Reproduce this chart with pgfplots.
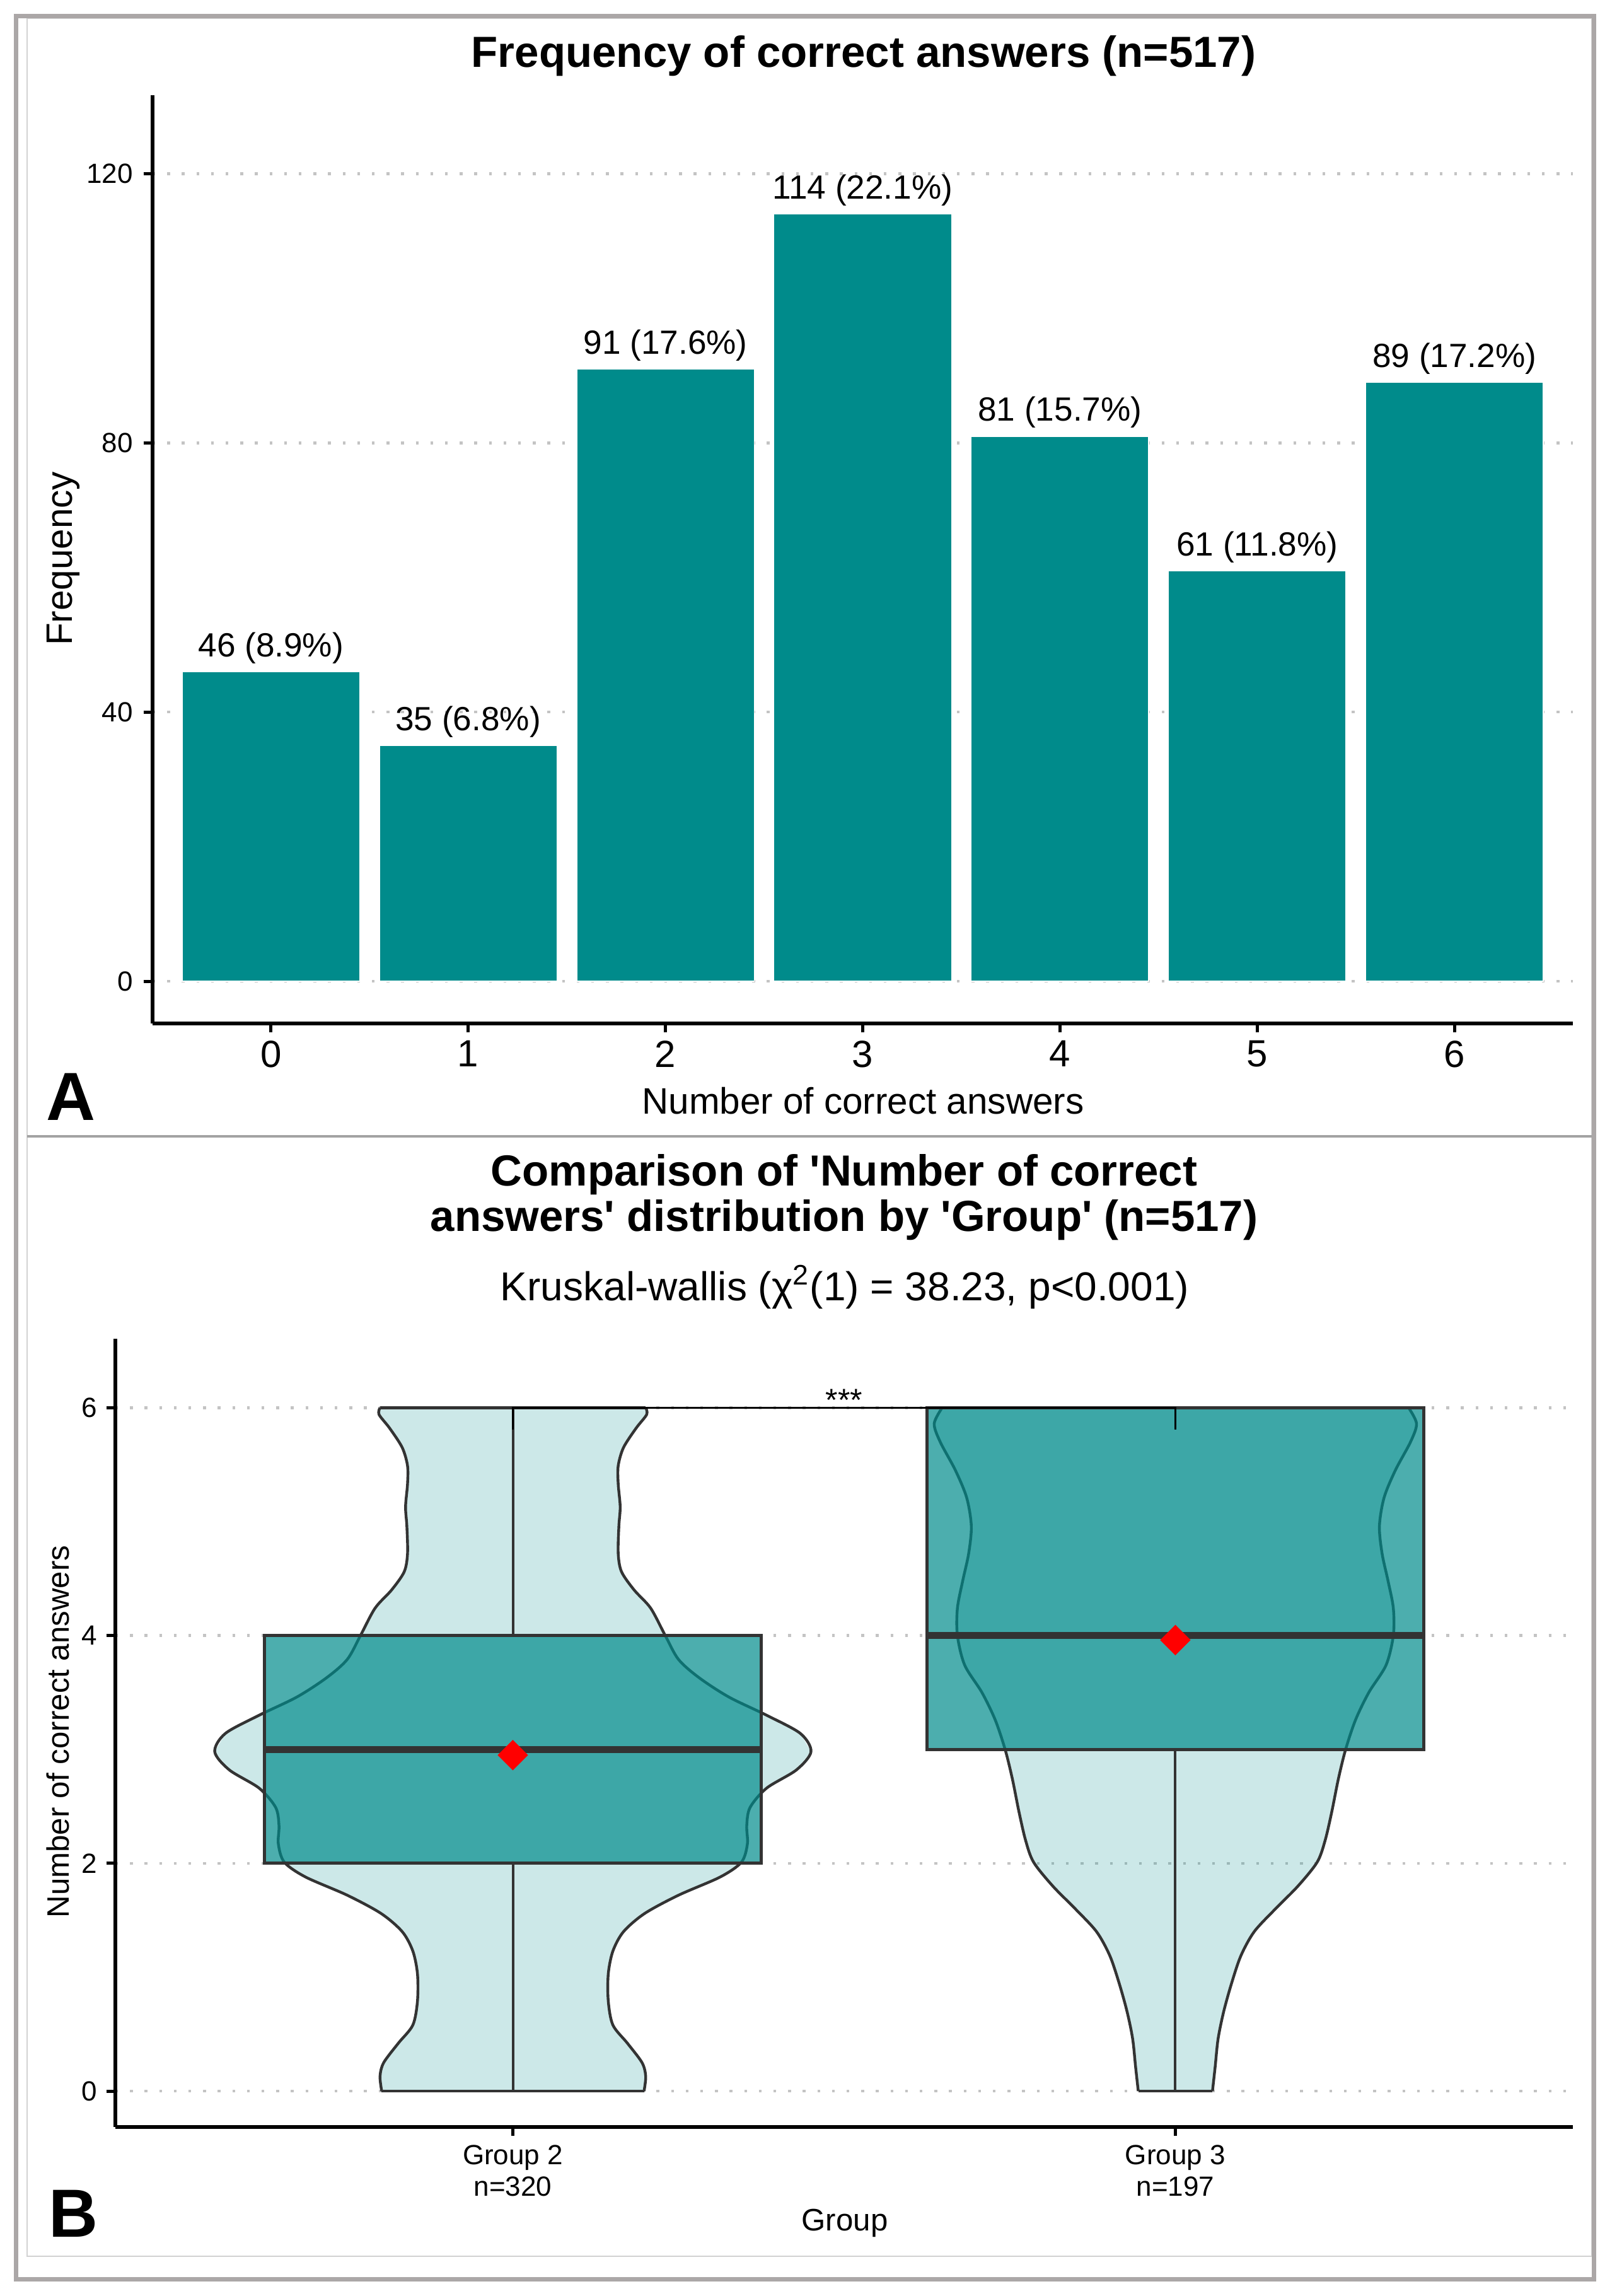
\documentclass[border=0pt]{standalone}
\usepackage{fontspec}
\setmainfont{Liberation Sans}
\usepackage{pgfplots}
\usepackage{pgfplotstable}
\pgfplotsset{compat=1.18}

\definecolor{tealc}{HTML}{008B8B}
\definecolor{g20}{HTML}{333333}
\definecolor{gridc}{HTML}{C4C4C4}
\definecolor{framec}{HTML}{ABA7A7}
\definecolor{innerc}{HTML}{D2D2D2}
\definecolor{sepc}{HTML}{A3A3A3}

\pgfplotstableread[col sep=comma]{
x,y,lab
0,46,46 (8.9\%)
1,35,35 (6.8\%)
2,91,91 (17.6\%)
3,114,114 (22.1\%)
4,81,81 (15.7\%)
5,61,61 (11.8\%)
6,89,89 (17.2\%)
}\barsA

% violin half-widths, Group 2 (s=1 right side going up, s=-1 left side going down)
\pgfplotstableread{
y w s
0 0.198 1
0.13 0.2005 1
0.25 0.195 1
0.42 0.173 1
0.58 0.151 1
0.79 0.144 1
1.03 0.144 1
1.23 0.151 1
1.40 0.167 1
1.56 0.199 1
1.72 0.250 1
1.88 0.313 1
2.01 0.345 1
2.17 0.354 1
2.33 0.353 1
2.49 0.358 1
2.66 0.383 1
2.82 0.428 1
2.98 0.450 1
3.14 0.434 1
3.30 0.383 1
3.46 0.326 1
3.63 0.281 1
3.79 0.250 1
4.00 0.230 1
4.24 0.208 1
4.40 0.183 1
4.56 0.164 1
4.72 0.159 1
4.96 0.160 1
5.13 0.162 1
5.33 0.159 1
5.49 0.159 1
5.65 0.167 1
5.82 0.186 1
5.94 0.202 1
6.00 0.2005 1
6.00 0.2005 -1
5.94 0.202 -1
5.82 0.186 -1
5.65 0.167 -1
5.49 0.159 -1
5.33 0.159 -1
5.13 0.162 -1
4.96 0.160 -1
4.72 0.159 -1
4.56 0.164 -1
4.40 0.183 -1
4.24 0.208 -1
4.00 0.230 -1
3.79 0.250 -1
3.63 0.281 -1
3.46 0.326 -1
3.30 0.383 -1
3.14 0.434 -1
2.98 0.450 -1
2.82 0.428 -1
2.66 0.383 -1
2.49 0.358 -1
2.33 0.353 -1
2.17 0.354 -1
2.01 0.345 -1
1.88 0.313 -1
1.72 0.250 -1
1.56 0.199 -1
1.40 0.167 -1
1.23 0.151 -1
1.03 0.144 -1
0.79 0.144 -1
0.58 0.151 -1
0.42 0.173 -1
0.25 0.195 -1
0.13 0.2005 -1
0 0.198 -1
}\vioA

% violin half-widths, Group 3
\pgfplotstableread{
y w s
0 0.056 1
0.21 0.060 1
0.46 0.0645 1
0.70 0.073 1
0.95 0.085 1
1.19 0.099 1
1.40 0.119 1
1.60 0.151 1
1.80 0.185 1
2.01 0.214 1
2.20 0.226 1
2.45 0.236 1
2.74 0.246 1
3.00 0.257 1
3.26 0.272 1
3.50 0.292 1
3.74 0.318 1
4.00 0.329 1
4.24 0.329 1
4.48 0.321 1
4.72 0.312 1
4.96 0.308 1
5.21 0.315 1
5.45 0.332 1
5.70 0.355 1
5.86 0.364 1
6.00 0.352 1
6.00 0.352 -1
5.86 0.364 -1
5.70 0.355 -1
5.45 0.332 -1
5.21 0.315 -1
4.96 0.308 -1
4.72 0.312 -1
4.48 0.321 -1
4.24 0.329 -1
4.00 0.329 -1
3.74 0.318 -1
3.50 0.292 -1
3.26 0.272 -1
3.00 0.257 -1
2.74 0.246 -1
2.45 0.236 -1
2.20 0.226 -1
2.01 0.214 -1
1.80 0.185 -1
1.60 0.151 -1
1.40 0.119 -1
1.19 0.099 -1
0.95 0.085 -1
0.70 0.073 -1
0.46 0.0645 -1
0.21 0.060 -1
0 0.056 -1
}\vioB

\pgfplotsset{
  gg/.style={
    scale only axis, anchor=north west,
    axis x line*=bottom, axis y line*=left,
    axis line style={-, black, line width=1.3pt},
    x axis line style={-}, y axis line style={-},
    tick align=outside, major tick length=3.6pt,
    tick style={black, line width=1.3pt},
    ymajorgrids,
    major grid style={gridc, line width=1.1pt, dash pattern=on 1.1pt off 4.7pt},
    /pgf/number format/assume math mode=true,
    tick label style={inner sep=0pt},
  },
  vright/.style={x filter/.expression={\thisrow{s}>0 ? x : nan}},
}

\begin{document}
\begin{tikzpicture}
\path (0pt,0pt) rectangle (641.25pt,-910.25pt);

% ---------- Panel A ----------
\begin{axis}[gg, at={(60.5pt,-37.75pt)}, width=563.25pt, height=368pt,
  xmin=-0.6, xmax=6.6, ymin=-6.27, ymax=131.67,
  xtick={0,1,2,3,4,5,6}, ytick={0,40,80,120},
  x tick label style={font=\fontsize{15}{18}\selectfont},
  y tick label style={font=\fontsize{11}{13}\selectfont},
  xticklabel shift=3pt, yticklabel shift=4pt,
]
\addplot[ybar, bar width=0.9, bar shift=0pt, fill=tealc, draw=white, line width=0.4pt,
  nodes near coords, point meta=explicit symbolic,
  every node near coord/.append style={anchor=base, yshift=6pt, text=black, inner sep=0pt,
    font=\fontsize{13.3}{16}\selectfont}]
  table[x=x, y=y, meta=lab]{\barsA};
\end{axis}

\node[anchor=base, inner sep=0pt, font=\bfseries\fontsize{17.25}{20}\selectfont] at (342.5pt,-26.5pt) {Frequency of correct answers (n=517)};
\node[anchor=base, inner sep=0pt, font=\fontsize{14.6}{17}\selectfont] at (342.25pt,-441.5pt) {Number of correct answers};
\node[rotate=90, anchor=base, inner sep=0pt, font=\fontsize{14.6}{17}\selectfont] at (28.6pt,-221.5pt) {Frequency};
\node[anchor=base west, inner sep=0pt, font=\bfseries\fontsize{27}{30}\selectfont] at (18.25pt,-444pt) {A};

% ---------- Panel B ----------
\begin{axis}[gg, at={(45.75pt,-530.75pt)}, width=578pt, height=312.5pt,
  xmin=0.4, xmax=2.6, ymin=-0.315, ymax=6.605,
  xtick={1,2}, xticklabels={{Group 2\\n=320},{Group 3\\n=197}},
  ytick={0,2,4,6},
  x tick label style={font=\fontsize{11}{12.5}\selectfont, align=center},
  y tick label style={font=\fontsize{11}{13}\selectfont},
  xticklabel shift=3.5pt, yticklabel shift=3.5pt,
]
% violin fills (closed polygons: right side up, left side down)
\addplot[fill=tealc, fill opacity=0.2, draw=none] table[x expr=1+\thisrow{s}*\thisrow{w}, y=y]{\vioA} -- cycle;
\addplot[fill=tealc, fill opacity=0.2, draw=none] table[x expr=2+\thisrow{s}*\thisrow{w}, y=y]{\vioB} -- cycle;
% violin outlines (each side smooth)
\addplot[g20, line width=1.1pt, smooth, tension=0.5, unbounded coords=jump,
  x filter/.expression={\thisrow{s}>0 ? x : nan}] table[x expr=1+\thisrow{s}*\thisrow{w}, y=y]{\vioA};
\addplot[g20, line width=1.1pt, smooth, tension=0.5, unbounded coords=jump,
  x filter/.expression={\thisrow{s}<0 ? x : nan}] table[x expr=1+\thisrow{s}*\thisrow{w}, y=y]{\vioA};
\addplot[g20, line width=1.1pt] coordinates {(0.802,0) (1.198,0)};
\addplot[g20, line width=1.1pt] coordinates {(0.7995,6) (1.2005,6)};
\addplot[g20, line width=1.1pt, smooth, tension=0.5, unbounded coords=jump,
  x filter/.expression={\thisrow{s}>0 ? x : nan}] table[x expr=2+\thisrow{s}*\thisrow{w}, y=y]{\vioB};
\addplot[g20, line width=1.1pt, smooth, tension=0.5, unbounded coords=jump,
  x filter/.expression={\thisrow{s}<0 ? x : nan}] table[x expr=2+\thisrow{s}*\thisrow{w}, y=y]{\vioB};
\addplot[g20, line width=1.1pt] coordinates {(1.944,0) (2.056,0)};
\addplot[g20, line width=1.1pt] coordinates {(1.648,6) (2.352,6)};
% whiskers
\addplot[g20, line width=1pt] coordinates {(1,0) (1,2)};
\addplot[g20, line width=1pt] coordinates {(1,4) (1,6)};
\addplot[g20, line width=1pt] coordinates {(2,0) (2,3)};
% boxes
\addplot[fill=tealc, fill opacity=0.7, draw=g20, line width=1.25pt] coordinates {(0.625,2) (1.375,2) (1.375,4) (0.625,4)} -- cycle;
\addplot[fill=tealc, fill opacity=0.7, draw=g20, line width=1.25pt] coordinates {(1.625,3) (2.375,3) (2.375,6) (1.625,6)} -- cycle;
% medians
\addplot[g20, line width=2.75pt] coordinates {(0.625,3) (1.375,3)};
\addplot[g20, line width=2.75pt] coordinates {(1.625,4) (2.375,4)};
% means
\addplot[only marks, red, mark=square*, mark size=4.07pt, mark options={rotate=45, fill=red, draw=none}] coordinates {(1,2.95) (2,3.96)};
% significance bracket
\addplot[black, line width=0.75pt] coordinates {(1,5.81) (1,6) (2,6) (2,5.81)};
\node[anchor=base, inner sep=0pt, font=\fontsize{12.5}{15}\selectfont] at (axis cs:1.5,5.97) {***};
\end{axis}

\node[anchor=base, inner sep=0pt, font=\bfseries\fontsize{17.25}{20}\selectfont] at (334.75pt,-470pt) {Comparison of \textquotesingle Number of correct};
\node[anchor=base, inner sep=0pt, font=\bfseries\fontsize{17.25}{20}\selectfont] at (334.75pt,-488pt) {answers\textquotesingle{} distribution by \textquotesingle Group\textquotesingle{} (n=517)};
\node[anchor=base, inner sep=0pt, font=\fontsize{16}{19}\selectfont] at (335pt,-515.6pt) {Kruskal-wallis (χ\textsuperscript{2}(1) = 38.23, p<0.001)};
\node[rotate=90, anchor=base, inner sep=0pt, font=\fontsize{12.3}{15}\selectfont] at (27.25pt,-686.5pt) {Number of correct answers};
\node[anchor=base, inner sep=0pt, font=\fontsize{12.3}{15}\selectfont] at (335pt,-884.25pt) {Group};
\node[anchor=base west, inner sep=0pt, font=\bfseries\fontsize{27}{30}\selectfont] at (19.1pt,-886.75pt) {B};

% ---------- frames ----------
\draw[innerc, line width=0.5pt] (10.75pt,-7.25pt) rectangle (631.25pt,-894.5pt);
\draw[sepc, line width=0.8pt] (10.75pt,-450.5pt) -- (631.25pt,-450.5pt);
\draw[framec, line width=1.75pt] (6.375pt,-6.375pt) rectangle (632.125pt,-903.625pt);
\end{tikzpicture}
\end{document}
